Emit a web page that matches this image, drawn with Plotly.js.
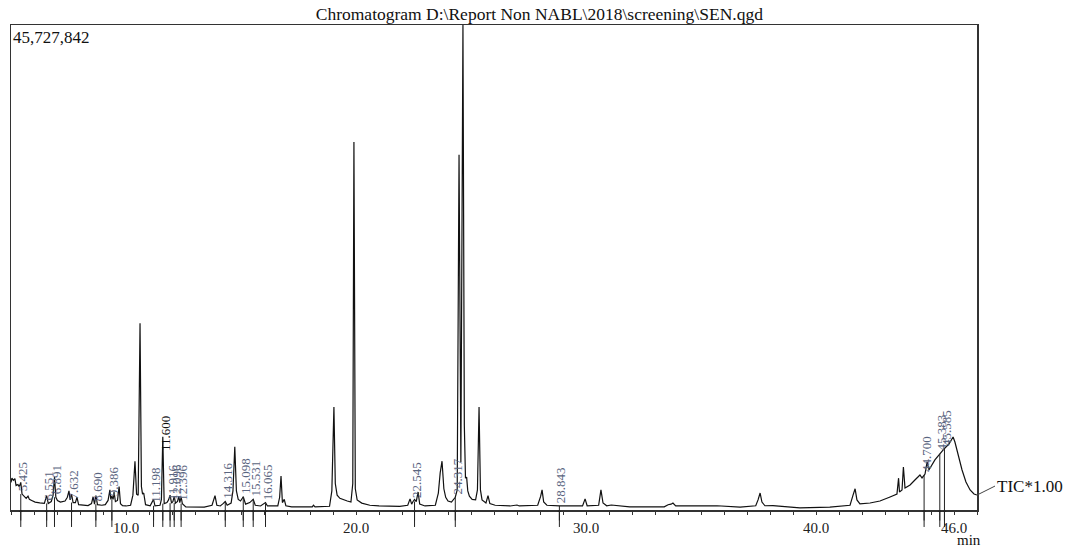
<!DOCTYPE html>
<html>
<head>
<meta charset="utf-8">
<script src="https://cdn.plot.ly/plotly-3.0.1.min.js"></script>
<style>html,body{margin:0;padding:0;background:#fff}#chart{width:1068px;height:550px}</style>
</head>
<body>
<div id="chart"></div>
<script>
// ---------------- DATA ----------------
// retention time, min
const retentionTime = [
 5.00,5.04,5.10,5.17,5.22,5.30,5.36,5.425,5.48,5.58,5.66,5.74,5.80,5.90,6.05,6.25,6.45,6.551,6.62,6.75,
 6.83,6.891,6.95,7.02,7.15,7.35,7.45,7.52,7.57,7.632,7.70,7.80,7.87,7.94,8.10,8.35,8.50,8.57,8.63,8.690,
 8.76,8.95,9.10,9.22,9.30,9.34,9.386,9.44,9.48,9.54,9.63,9.70,9.76,9.85,10.00,10.20,10.30,10.39,10.46,10.53,
 10.61,10.67,10.72,10.77,10.85,11.05,11.198,11.26,11.48,11.54,11.600,11.66,11.78,11.85,11.916,11.98,12.04,12.096,12.15,12.24,
 12.30,12.34,12.396,12.45,12.60,13.40,13.74,13.87,13.95,14.10,14.22,14.316,14.40,14.57,14.65,14.73,14.80,14.88,14.98,15.098,
 15.20,15.38,15.531,15.62,15.85,16.00,16.065,16.15,16.60,16.68,16.74,16.80,16.88,16.95,17.20,18.10,18.15,18.22,18.85,18.95,
 19.04,19.10,19.18,19.30,19.45,19.62,19.78,19.86,19.91,19.97,20.05,20.25,20.60,21.00,21.90,22.25,22.35,22.42,22.48,22.545,
 22.62,22.70,22.77,23.00,23.45,23.58,23.66,23.74,23.82,23.90,24.00,24.15,24.317,24.40,24.48,24.56,24.65,24.71,24.76,24.81,
 24.86,24.93,25.05,25.20,25.28,25.35,25.41,25.48,25.65,25.74,25.82,26.05,26.70,27.00,27.10,27.90,28.03,28.09,28.16,28.30,
 28.843,29.85,29.96,30.05,30.55,30.65,30.74,30.90,31.10,31.90,33.40,33.57,33.70,33.78,33.90,35.70,36.70,37.38,37.48,37.57,
 37.65,37.78,38.13,39.30,40.60,41.48,41.61,41.70,41.78,41.91,42.35,42.78,43.22,43.52,43.59,43.63,43.74,43.80,43.87,44.09,
 44.30,44.48,44.52,44.61,44.700,44.74,44.83,44.91,45.17,45.383,45.585,45.78,45.87,45.96,46.04,46.17,46.35,46.52,46.70,46.87,
 47.00
];
// total ion current, millions of counts
const ticMillions = [
 2.60,3.00,2.80,2.95,2.30,2.40,2.20,2.60,1.50,1.25,1.10,1.30,1.00,0.90,0.75,0.68,0.62,1.35,0.62,0.80,
 1.40,3.10,1.20,0.90,0.75,0.85,1.20,1.80,0.95,1.50,0.70,0.70,1.20,0.50,0.45,0.42,0.60,1.25,0.55,1.35,
 0.50,0.45,0.50,0.90,1.90,1.00,1.30,1.00,1.70,0.80,0.90,2.20,0.60,0.40,0.38,0.45,1.40,4.60,1.50,1.40,
 17.60,2.20,1.50,1.60,0.50,0.40,1.00,0.40,0.45,1.00,6.90,0.60,0.70,0.95,1.40,0.65,0.80,1.30,0.65,0.80,
 1.30,0.70,1.25,0.60,0.30,0.28,0.45,1.35,0.45,0.38,0.60,0.80,0.45,0.65,1.80,5.95,1.80,1.00,0.85,1.25,
 0.55,0.70,1.00,0.45,0.38,0.60,0.70,0.38,0.38,1.20,3.20,0.70,1.00,0.40,0.30,0.30,0.45,0.30,0.35,1.80,
 9.70,2.50,1.40,1.10,0.95,0.85,0.75,2.50,34.70,2.00,0.95,0.65,0.45,0.38,0.35,0.45,1.05,0.55,0.80,1.00,
 0.80,1.70,0.55,0.38,0.45,1.60,3.50,4.60,2.00,1.20,0.85,0.75,1.20,1.90,33.50,4.50,45.73,8.00,3.00,3.10,
 1.80,1.30,1.00,0.95,1.90,9.70,1.90,0.95,0.66,1.35,0.60,0.45,0.38,0.47,0.38,0.45,1.30,1.90,0.75,0.45,
 0.38,0.38,1.05,0.40,0.45,1.90,0.66,0.40,0.47,0.30,0.30,0.50,0.55,0.66,0.38,0.40,0.28,0.40,0.95,1.60,
 0.75,0.40,0.42,0.20,0.28,0.45,1.40,2.00,0.95,0.57,0.66,0.85,1.23,1.50,3.00,1.70,1.89,4.05,2.07,2.36,
 2.83,3.20,3.30,3.02,3.30,3.39,4.53,3.77,4.72,5.30,5.80,6.22,6.50,6.88,6.41,5.19,3.77,2.64,1.89,1.51,
 1.41
];
// labelled peak retention times
const peakLabels = ['5.425','6.551','6.891','7.632','8.690','9.386','11.198','11.600','11.916','12.096','12.396',
 '14.316','15.098','15.531','16.065','22.545','24.317','28.843','44.700','45.383','45.585'];
// axis
const xTickLabelValues = [10, 20, 30, 40, 46];
const fullScale = 45727842;
const chartTitle = 'Chromatogram D:\\Report Non NABL\\2018\\screening\\SEN.qgd';
const traceName = 'TIC*1.00';

// ---------------- BUILD ----------------
const yMax = fullScale / 1e6;
const serif = 'Liberation Serif, Times New Roman, serif';
const xTickVals = [], xTickText = [];
for (let t = 5; t <= 47; t++) {
  xTickVals.push(t);
  xTickText.push(xTickLabelValues.includes(t) ? t.toFixed(1) : '');
}
function localBase(t) {
  let m = Infinity;
  for (let i = 0; i < retentionTime.length; i++) {
    if (Math.abs(retentionTime[i] - t) <= 0.07) m = Math.min(m, ticMillions[i]);
  }
  if (m === Infinity) m = 0.3;
  return m;
}
const labelStyle = {'11.600': {color: '#111', yshift: 50}};
const annotations = [];
const shapes = [];
peakLabels.forEach(lbl => {
  const t = parseFloat(lbl);
  const b = localBase(t);
  const st = labelStyle[lbl] || {};
  annotations.push({
    x: t, y: b, xref: 'x', yref: 'y', text: lbl, showarrow: false, textangle: -90,
    xanchor: 'center', yanchor: 'bottom', xshift: 2, yshift: 1 + (st.yshift || 0),
    font: {family: serif, size: 13, color: st.color || '#5a6580'}
  });
  shapes.push({type: 'line', xref: 'x', yref: 'paper', x0: t, x1: t, y0: -0.035, y1: b / yMax,
    line: {color: '#222', width: 1}});
  annotations.push({
    x: t, y: 0, xref: 'x', yref: 'y', text: '', showarrow: true, arrowhead: 1, arrowsize: 0.7,
    arrowwidth: 1, arrowcolor: '#222', ax: 0, ay: 12, standoff: 0
  });
});
annotations.push({
  xref: 'paper', yref: 'paper', x: 0, y: 1, xanchor: 'left', yanchor: 'top', xshift: 0, yshift: -1,
  text: fullScale.toLocaleString('en-US'), showarrow: false,
  font: {family: serif, size: 17, color: '#111'}
});
annotations.push({
  xref: 'x', yref: 'y', x: retentionTime[retentionTime.length - 1], y: ticMillions[ticMillions.length - 1],
  text: traceName, showarrow: true, arrowhead: 0, arrowwidth: 1, arrowcolor: '#444',
  ax: 18, ay: -9, xanchor: 'left', yanchor: 'middle', standoff: 0,
  font: {family: serif, size: 17, color: '#111'}
});
annotations.push({
  xref: 'paper', yref: 'paper', x: 0.992, y: -0.0825, xanchor: 'center', yanchor: 'bottom',
  text: 'min', showarrow: false, font: {family: serif, size: 15, color: '#111'}
});

const trace = {
  x: retentionTime, y: ticMillions, type: 'scatter', mode: 'lines',
  line: {color: '#111', width: 1.2}, hoverinfo: 'x+y'
};
const layout = {
  width: 1068, height: 550,
  margin: {l: 11, r: 91, t: 25, b: 40},
  paper_bgcolor: '#fff', plot_bgcolor: '#fff',
  showlegend: false,
  title: {text: chartTitle, xref: 'container', x: 0.505, xanchor: 'center', yref: 'container', y: 0.975, yanchor: 'middle',
    font: {family: serif, size: 17.5, color: '#111'}},
  xaxis: {range: [5, 47], showgrid: false, zeroline: false, showline: true, mirror: true, linecolor: '#333', linewidth: 1.5,
    tickmode: 'array', tickvals: xTickVals, ticktext: xTickText, ticks: 'outside', ticklen: 3, tickwidth: 1, tickcolor: '#333',
    tickfont: {family: serif, size: 15, color: '#222'}},
  yaxis: {range: [0, yMax], showgrid: false, zeroline: false, showline: true, mirror: true, linecolor: '#333', linewidth: 1.5,
    showticklabels: false, ticks: ''},
  annotations: annotations,
  shapes: shapes
};
Plotly.newPlot('chart', [trace], layout, {staticPlot: true});
</script>
</body>
</html>
